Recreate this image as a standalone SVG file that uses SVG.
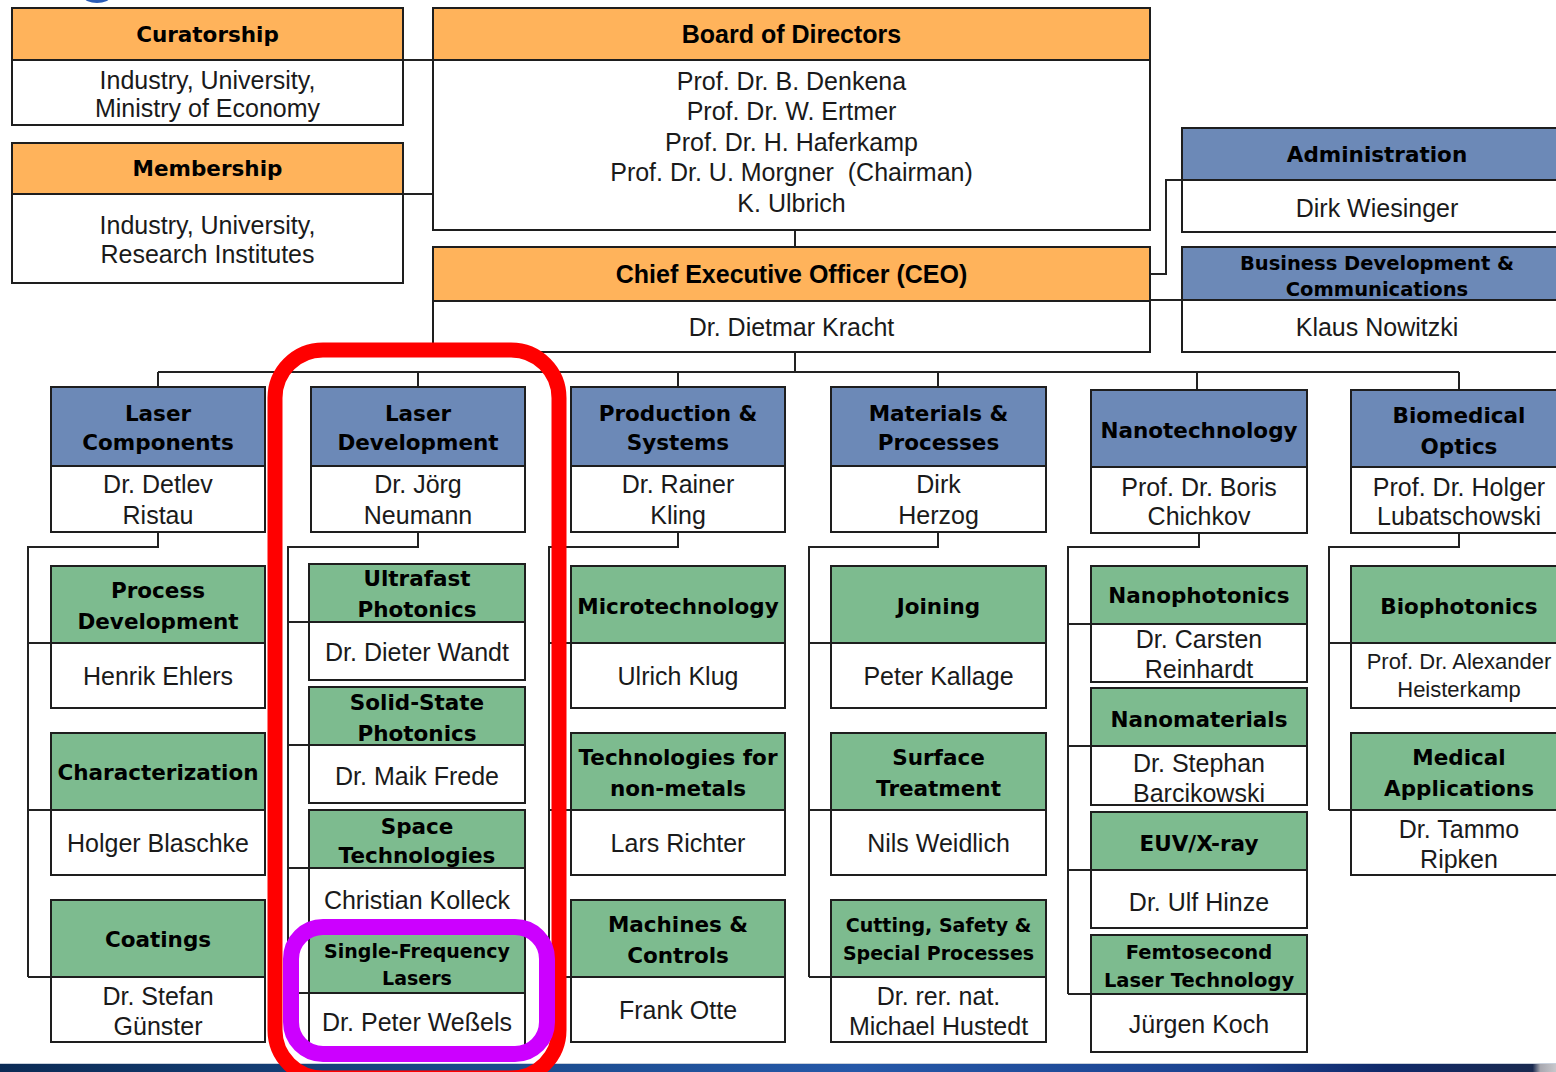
<svg xmlns="http://www.w3.org/2000/svg" width="1556" height="1072" viewBox="0 0 1556 1072">
<defs>
<style>
.ho{fill:#FFB35B}
.hb{fill:#6C89B7}
.hg{fill:#7DBB8F}
.bd{fill:#fff}
.ol{fill:none;stroke:#1e1e1e;stroke-width:2}
.sep{stroke:#1e1e1e;stroke-width:2}
.ht{font-family:"DejaVu Sans",Verdana,sans-serif;font-weight:bold;font-size:21.5px;text-anchor:middle;fill:#000}
.hs{font-size:19.5px}
.hx{font-size:19px}
.at{font-family:"Liberation Sans",Arial,sans-serif;font-weight:bold;font-size:25px;text-anchor:middle;fill:#000}
.bt{font-family:"Liberation Sans",Arial,sans-serif;font-size:25px;text-anchor:middle;fill:#1a1a1a}
.bs{font-size:22px}
.cn{fill:none;stroke:#222;stroke-width:2}
</style>
<linearGradient id="bar" x1="0" y1="0" x2="1" y2="0">
<stop offset="0" stop-color="#0b2b55"/>
<stop offset="0.3" stop-color="#1a4a8a"/>
<stop offset="0.55" stop-color="#2558a8"/>
<stop offset="0.8" stop-color="#1b418e"/>
<stop offset="0.89" stop-color="#10296a"/>
<stop offset="0.985" stop-color="#1a2a50"/>
<stop offset="0.99" stop-color="#a8a8b0"/>
<stop offset="1" stop-color="#c8c8cc"/>
</linearGradient>
</defs>
<rect width="1556" height="1072" fill="#fff"/>
<ellipse cx="97" cy="-3" rx="13" ry="6" fill="#2a5cb8"/>

<g id="connectors">
<path class="cn" d="M403,60H433M403,194H433M795,230V247M795,352V372M158,372H1459"/>
<path class="cn" d="M158,372V387M418,372V387M678,372V387M938,372V387M1197,372V390M1459,372V390"/>
<path class="cn" d="M1150,274H1166V180H1182M1150,300H1182"/>
<path class="cn" d="M158,532V547H28V977M28,643H51M28,810H51M28,977H51"/>
<path class="cn" d="M418,532V547H288V993M288,622H309M288,745H309M288,868H309M288,993H309"/>
<path class="cn" d="M678,532V547H549V977M549,643H571M549,810H571M549,977H571"/>
<path class="cn" d="M938,532V547H809V977M809,643H831M809,810H831M809,977H831"/>
<path class="cn" d="M1199,533V547H1068V994M1068,624H1091M1068,746H1091M1068,870H1091M1068,994H1091"/>
<path class="cn" d="M1459,533V547H1329V810M1329,643H1351M1329,810H1351"/>
</g>

<g id="curatorship">
<rect class="ho" x="12" y="8" width="391" height="52"/><rect class="bd" x="12" y="60" width="391" height="65"/>
<line class="sep" x1="12" y1="60" x2="403" y2="60"/><rect class="ol" x="12" y="8" width="391" height="117"/>
<text class="ht" x="207.5" y="42">Curatorship</text>
<text class="bt" x="207.5" y="89">Industry, University,</text>
<text class="bt" x="207.5" y="117">Ministry of Economy</text>
</g>
<g id="membership">
<rect class="ho" x="12" y="143" width="391" height="51"/><rect class="bd" x="12" y="194" width="391" height="89"/>
<line class="sep" x1="12" y1="194" x2="403" y2="194"/><rect class="ol" x="12" y="143" width="391" height="140"/>
<text class="ht" x="207.5" y="176">Membership</text>
<text class="bt" x="207.5" y="234">Industry, University,</text>
<text class="bt" x="207.5" y="263">Research Institutes</text>
</g>
<g id="board">
<rect class="ho" x="433" y="8" width="717" height="52"/><rect class="bd" x="433" y="60" width="717" height="170"/>
<line class="sep" x1="433" y1="60" x2="1150" y2="60"/><rect class="ol" x="433" y="8" width="717" height="222"/>
<text class="at" x="791.5" y="43">Board of Directors</text>
<text class="bt" x="791.5" y="90">Prof. Dr. B. Denkena</text>
<text class="bt" x="791.5" y="120">Prof. Dr. W. Ertmer</text>
<text class="bt" x="791.5" y="151">Prof. Dr. H. Haferkamp</text>
<text class="bt" x="791.5" y="181" xml:space="preserve">Prof. Dr. U. Morgner  (Chairman)</text>
<text class="bt" x="791.5" y="212">K. Ulbrich</text>
</g>
<g id="ceo">
<rect class="ho" x="433" y="247" width="717" height="54"/><rect class="bd" x="433" y="301" width="717" height="51"/>
<line class="sep" x1="433" y1="301" x2="1150" y2="301"/><rect class="ol" x="433" y="247" width="717" height="105"/>
<text class="at" x="791.5" y="283">Chief Executive Officer (CEO)</text>
<text class="bt" x="791.5" y="336">Dr. Dietmar Kracht</text>
</g>
<g id="administration">
<rect class="hb" x="1182" y="128" width="390" height="52"/><rect class="bd" x="1182" y="180" width="390" height="52"/>
<line class="sep" x1="1182" y1="180" x2="1572" y2="180"/><rect class="ol" x="1182" y="128" width="390" height="104"/>
<text class="ht" x="1377" y="162">Administration</text>
<text class="bt" x="1377" y="217">Dirk Wiesinger</text>
</g>
<g id="business-development">
<rect class="hb" x="1182" y="247" width="390" height="53"/><rect class="bd" x="1182" y="300" width="390" height="52"/>
<line class="sep" x1="1182" y1="300" x2="1572" y2="300"/><rect class="ol" x="1182" y="247" width="390" height="105"/>
<text class="ht hs" x="1377" y="270">Business Development &amp;</text>
<text class="ht hs" x="1377" y="296">Communications</text>
<text class="bt" x="1377" y="336">Klaus Nowitzki</text>
</g>

<g id="laser-components">
<rect class="hb" x="51" y="387" width="214" height="79"/><rect class="bd" x="51" y="466" width="214" height="66"/>
<line class="sep" x1="51" y1="466" x2="265" y2="466"/><rect class="ol" x="51" y="387" width="214" height="145"/>
<text class="ht" x="158" y="421">Laser</text><text class="ht" x="158" y="450">Components</text>
<text class="bt" x="158" y="493">Dr. Detlev</text><text class="bt" x="158" y="524">Ristau</text>
</g>
<g id="laser-development">
<rect class="hb" x="311" y="387" width="214" height="79"/><rect class="bd" x="311" y="466" width="214" height="66"/>
<line class="sep" x1="311" y1="466" x2="525" y2="466"/><rect class="ol" x="311" y="387" width="214" height="145"/>
<text class="ht" x="418" y="421">Laser</text><text class="ht" x="418" y="450">Development</text>
<text class="bt" x="418" y="493">Dr. Jörg</text><text class="bt" x="418" y="524">Neumann</text>
</g>
<g id="production-systems">
<rect class="hb" x="571" y="387" width="214" height="79"/><rect class="bd" x="571" y="466" width="214" height="66"/>
<line class="sep" x1="571" y1="466" x2="785" y2="466"/><rect class="ol" x="571" y="387" width="214" height="145"/>
<text class="ht" x="678" y="421">Production &amp;</text><text class="ht" x="678" y="450">Systems</text>
<text class="bt" x="678" y="493">Dr. Rainer</text><text class="bt" x="678" y="524">Kling</text>
</g>
<g id="materials-processes">
<rect class="hb" x="831" y="387" width="215" height="79"/><rect class="bd" x="831" y="466" width="215" height="66"/>
<line class="sep" x1="831" y1="466" x2="1046" y2="466"/><rect class="ol" x="831" y="387" width="215" height="145"/>
<text class="ht" x="938.5" y="421">Materials &amp;</text><text class="ht" x="938.5" y="450">Processes</text>
<text class="bt" x="938.5" y="493">Dirk</text><text class="bt" x="938.5" y="524">Herzog</text>
</g>
<g id="nanotechnology">
<rect class="hb" x="1091" y="390" width="216" height="77"/><rect class="bd" x="1091" y="467" width="216" height="66"/>
<line class="sep" x1="1091" y1="467" x2="1307" y2="467"/><rect class="ol" x="1091" y="390" width="216" height="143"/>
<text class="ht" x="1199" y="438">Nanotechnology</text>
<text class="bt" x="1199" y="496">Prof. Dr. Boris</text><text class="bt" x="1199" y="525">Chichkov</text>
</g>
<g id="biomedical-optics">
<rect class="hb" x="1351" y="390" width="216" height="77"/><rect class="bd" x="1351" y="467" width="216" height="66"/>
<line class="sep" x1="1351" y1="467" x2="1567" y2="467"/><rect class="ol" x="1351" y="390" width="216" height="143"/>
<text class="ht" x="1459" y="423">Biomedical</text><text class="ht" x="1459" y="454">Optics</text>
<text class="bt" x="1459" y="496">Prof. Dr. Holger</text><text class="bt" x="1459" y="525">Lubatschowski</text>
</g>

<g id="process-development">
<rect class="hg" x="51" y="566" width="214" height="77"/><rect class="bd" x="51" y="643" width="214" height="65"/>
<line class="sep" x1="51" y1="643" x2="265" y2="643"/><rect class="ol" x="51" y="566" width="214" height="142"/>
<text class="ht" x="158" y="598">Process</text><text class="ht" x="158" y="629">Development</text>
<text class="bt" x="158" y="685">Henrik Ehlers</text>
</g>
<g id="characterization">
<rect class="hg" x="51" y="733" width="214" height="77"/><rect class="bd" x="51" y="810" width="214" height="65"/>
<line class="sep" x1="51" y1="810" x2="265" y2="810"/><rect class="ol" x="51" y="733" width="214" height="142"/>
<text class="ht" x="158" y="780">Characterization</text>
<text class="bt" x="158" y="852">Holger Blaschke</text>
</g>
<g id="coatings">
<rect class="hg" x="51" y="900" width="214" height="77"/><rect class="bd" x="51" y="977" width="214" height="65"/>
<line class="sep" x1="51" y1="977" x2="265" y2="977"/><rect class="ol" x="51" y="900" width="214" height="142"/>
<text class="ht" x="158" y="947">Coatings</text>
<text class="bt" x="158" y="1005">Dr. Stefan</text><text class="bt" x="158" y="1035">Günster</text>
</g>

<g id="ultrafast-photonics">
<rect class="hg" x="309" y="564" width="216" height="58"/><rect class="bd" x="309" y="622" width="216" height="58"/>
<line class="sep" x1="309" y1="622" x2="525" y2="622"/><rect class="ol" x="309" y="564" width="216" height="116"/>
<text class="ht" x="417" y="586">Ultrafast</text><text class="ht" x="417" y="617">Photonics</text>
<text class="bt" x="417" y="661">Dr. Dieter Wandt</text>
</g>
<g id="solid-state-photonics">
<rect class="hg" x="309" y="687" width="216" height="58"/><rect class="bd" x="309" y="745" width="216" height="58"/>
<line class="sep" x1="309" y1="745" x2="525" y2="745"/><rect class="ol" x="309" y="687" width="216" height="116"/>
<text class="ht" x="417" y="710">Solid-State</text><text class="ht" x="417" y="741">Photonics</text>
<text class="bt" x="417" y="785">Dr. Maik Frede</text>
</g>
<g id="space-technologies">
<rect class="hg" x="309" y="810" width="216" height="58"/><rect class="bd" x="309" y="868" width="216" height="59"/>
<line class="sep" x1="309" y1="868" x2="525" y2="868"/><rect class="ol" x="309" y="810" width="216" height="117"/>
<text class="ht" x="417" y="834">Space</text><text class="ht" x="417" y="863">Technologies</text>
<text class="bt" x="417" y="909">Christian Kolleck</text>
</g>
<g id="single-frequency-lasers">
<rect class="hg" x="309" y="934" width="216" height="59"/><rect class="bd" x="309" y="993" width="216" height="57"/>
<line class="sep" x1="309" y1="993" x2="525" y2="993"/><rect class="ol" x="309" y="934" width="216" height="116"/>
<text class="ht hx" x="417" y="958">Single-Frequency</text><text class="ht hx" x="417" y="985">Lasers</text>
<text class="bt" x="417" y="1031">Dr. Peter Weßels</text>
</g>

<g id="microtechnology">
<rect class="hg" x="571" y="566" width="214" height="77"/><rect class="bd" x="571" y="643" width="214" height="65"/>
<line class="sep" x1="571" y1="643" x2="785" y2="643"/><rect class="ol" x="571" y="566" width="214" height="142"/>
<text class="ht" x="678" y="614">Microtechnology</text>
<text class="bt" x="678" y="685">Ulrich Klug</text>
</g>
<g id="technologies-non-metals">
<rect class="hg" x="571" y="733" width="214" height="77"/><rect class="bd" x="571" y="810" width="214" height="65"/>
<line class="sep" x1="571" y1="810" x2="785" y2="810"/><rect class="ol" x="571" y="733" width="214" height="142"/>
<text class="ht" x="678" y="765">Technologies for</text><text class="ht" x="678" y="796">non-metals</text>
<text class="bt" x="678" y="852">Lars Richter</text>
</g>
<g id="machines-controls">
<rect class="hg" x="571" y="900" width="214" height="77"/><rect class="bd" x="571" y="977" width="214" height="65"/>
<line class="sep" x1="571" y1="977" x2="785" y2="977"/><rect class="ol" x="571" y="900" width="214" height="142"/>
<text class="ht" x="678" y="932">Machines &amp;</text><text class="ht" x="678" y="963">Controls</text>
<text class="bt" x="678" y="1019">Frank Otte</text>
</g>

<g id="joining">
<rect class="hg" x="831" y="566" width="215" height="77"/><rect class="bd" x="831" y="643" width="215" height="65"/>
<line class="sep" x1="831" y1="643" x2="1046" y2="643"/><rect class="ol" x="831" y="566" width="215" height="142"/>
<text class="ht" x="938.5" y="614">Joining</text>
<text class="bt" x="938.5" y="685">Peter Kallage</text>
</g>
<g id="surface-treatment">
<rect class="hg" x="831" y="733" width="215" height="77"/><rect class="bd" x="831" y="810" width="215" height="65"/>
<line class="sep" x1="831" y1="810" x2="1046" y2="810"/><rect class="ol" x="831" y="733" width="215" height="142"/>
<text class="ht" x="938.5" y="765">Surface</text><text class="ht" x="938.5" y="796">Treatment</text>
<text class="bt" x="938.5" y="852">Nils Weidlich</text>
</g>
<g id="cutting-safety">
<rect class="hg" x="831" y="900" width="215" height="77"/><rect class="bd" x="831" y="977" width="215" height="65"/>
<line class="sep" x1="831" y1="977" x2="1046" y2="977"/><rect class="ol" x="831" y="900" width="215" height="142"/>
<text class="ht hx" x="938.5" y="932">Cutting, Safety &amp;</text><text class="ht hx" x="938.5" y="960">Special Processes</text>
<text class="bt" x="938.5" y="1005">Dr. rer. nat.</text><text class="bt" x="938.5" y="1035">Michael Hustedt</text>
</g>

<g id="nanophotonics">
<rect class="hg" x="1091" y="566" width="216" height="58"/><rect class="bd" x="1091" y="624" width="216" height="58"/>
<line class="sep" x1="1091" y1="624" x2="1307" y2="624"/><rect class="ol" x="1091" y="566" width="216" height="116"/>
<text class="ht" x="1199" y="603">Nanophotonics</text>
<text class="bt" x="1199" y="648">Dr. Carsten</text><text class="bt" x="1199" y="678">Reinhardt</text>
</g>
<g id="nanomaterials">
<rect class="hg" x="1091" y="688" width="216" height="58"/><rect class="bd" x="1091" y="746" width="216" height="59"/>
<line class="sep" x1="1091" y1="746" x2="1307" y2="746"/><rect class="ol" x="1091" y="688" width="216" height="117"/>
<text class="ht" x="1199" y="727">Nanomaterials</text>
<text class="bt" x="1199" y="772">Dr. Stephan</text><text class="bt" x="1199" y="802">Barcikowski</text>
</g>
<g id="euv-xray">
<rect class="hg" x="1091" y="812" width="216" height="58"/><rect class="bd" x="1091" y="870" width="216" height="58"/>
<line class="sep" x1="1091" y1="870" x2="1307" y2="870"/><rect class="ol" x="1091" y="812" width="216" height="116"/>
<text class="ht" x="1199" y="851">EUV/X-ray</text>
<text class="bt" x="1199" y="911">Dr. Ulf Hinze</text>
</g>
<g id="femtosecond-laser">
<rect class="hg" x="1091" y="935" width="216" height="59"/><rect class="bd" x="1091" y="994" width="216" height="58"/>
<line class="sep" x1="1091" y1="994" x2="1307" y2="994"/><rect class="ol" x="1091" y="935" width="216" height="117"/>
<text class="ht hs" x="1199" y="959">Femtosecond</text><text class="ht hs" x="1199" y="987">Laser Technology</text>
<text class="bt" x="1199" y="1033">Jürgen Koch</text>
</g>

<g id="biophotonics">
<rect class="hg" x="1351" y="566" width="216" height="77"/><rect class="bd" x="1351" y="643" width="216" height="65"/>
<line class="sep" x1="1351" y1="643" x2="1567" y2="643"/><rect class="ol" x="1351" y="566" width="216" height="142"/>
<text class="ht" x="1459" y="614">Biophotonics</text>
<text class="bt bs" x="1459" y="669">Prof. Dr. Alexander</text><text class="bt bs" x="1459" y="697">Heisterkamp</text>
</g>
<g id="medical-applications">
<rect class="hg" x="1351" y="733" width="216" height="77"/><rect class="bd" x="1351" y="810" width="216" height="65"/>
<line class="sep" x1="1351" y1="810" x2="1567" y2="810"/><rect class="ol" x="1351" y="733" width="216" height="142"/>
<text class="ht" x="1459" y="765">Medical</text><text class="ht" x="1459" y="796">Applications</text>
<text class="bt" x="1459" y="838">Dr. Tammo</text><text class="bt" x="1459" y="868">Ripken</text>
</g>

<rect x="0" y="1063" width="1556" height="9" fill="url(#bar)"/>
<line x1="0" y1="1063.5" x2="1556" y2="1063.5" stroke="#c8d0dc" stroke-width="1"/>

<g id="highlights">
<rect x="275" y="350" width="284" height="728" rx="48" fill="none" stroke="#ff0000" stroke-width="15"/>
<rect x="291" y="927" width="256" height="127" rx="32" fill="none" stroke="#cc00ff" stroke-width="16"/>
</g>
</svg>
